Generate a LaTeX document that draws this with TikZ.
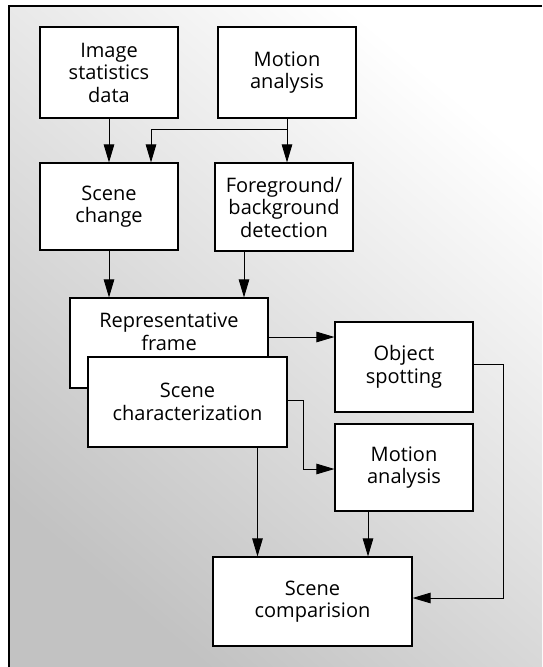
\documentclass[tikz,border=0pt]{standalone}
\usepackage{fontspec}
\setmainfont{Open Sans}
\usetikzlibrary{arrows.meta,calc}
\begin{document}
\begin{tikzpicture}[x=1pt,y=-1pt,
  box/.style={draw=black,fill=white,line width=1.1pt,align=center,inner sep=0pt,
    font=\fontsize{20}{22.5}\selectfont},
  arr/.style={line width=0.9pt,-{Triangle[length=18pt,width=10.5pt]}},
  ln/.style={line width=0.9pt}]
\useasboundingbox (0,0) rectangle (542,667);
% stippled background
\shade[shading=axis,top color=white,middle color=white,bottom color=black!24,shading angle=-40]
  (9,6) rectangle (542,667);
\draw[line width=1.2pt] (542,6) -- (9,6) -- (9,667);
% nodes
\node[box,minimum width=138,minimum height=91] (img) at (109,72.5) {Image\\statistics\\data};
\node[box,minimum width=138,minimum height=91] (mot) at (287,72.5) {Motion\\analysis};
\node[box,minimum width=138,minimum height=87] (scn) at (109,206.5) {Scene\\change};
\node[box,minimum width=138,minimum height=88] (fg) at (284,207) {Foreground/\\background\\detection};
\node[box,minimum width=198,minimum height=90] (rep) at (169,343) {Representative\\frame\\\mbox{}};
\node[box,minimum width=199,minimum height=90] (sc) at (187.5,402) {Scene\\characterization};
\node[box,minimum width=138,minimum height=90] (os) at (404,367) {Object\\spotting};
\node[box,minimum width=138,minimum height=87] (ma) at (404,467.5) {Motion\\analysis};
\node[box,minimum width=199,minimum height=89] (cmp) at (312.5,601.5) {Scene\\comparision};
% connectors
\draw[arr] (img) -- (scn);
\draw[arr] (mot.south) -- (mot.south |- fg.north);
\coordinate (br) at ([yshift=-11]mot.south);
\draw[arr] (br) -| ([xshift=42]scn.north);
\draw[arr] (scn.south) -- (scn.south |- rep.north);
\coordinate (f1) at ([xshift=-40]fg.south);
\draw[arr] (f1) -- (f1 |- rep.north);
\coordinate (r1) at ([yshift=6]rep.east);
\draw[arr] (r1) -- (r1 -| os.west);
\coordinate (s1) at ([yshift=2]sc.east);
\draw[arr] (s1) -- ++(16,0) |- ([yshift=-1.5]ma.west);
\coordinate (o1) at ([yshift=3]os.east);
\draw[arr] (o1) -- ++(30,0) |- ([yshift=3.5]cmp.east);
\coordinate (s2) at ([xshift=70]sc.south);
\draw[arr] (s2) -- (s2 |- cmp.north);
\coordinate (m1) at ([xshift=-36]ma.south);
\draw[arr] (m1) -- (m1 |- cmp.north);
\end{tikzpicture}
\end{document}
